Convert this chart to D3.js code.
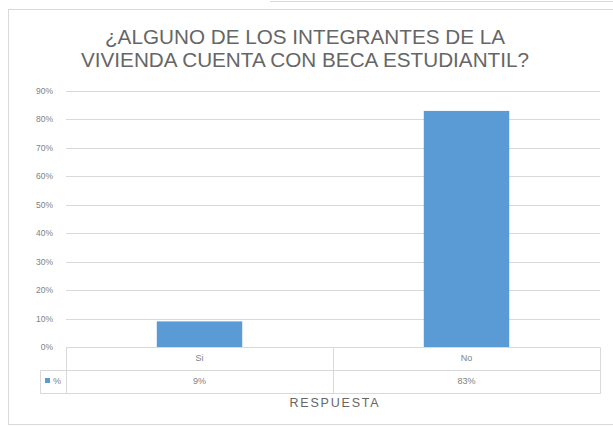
<!DOCTYPE html>
<html><head><meta charset="utf-8">
<script src="https://cdn.jsdelivr.net/npm/d3@7"></script>
<style>body{margin:0;background:#fff;}svg{display:block;font-family:"Liberation Sans",Arial,sans-serif;}</style>
</head><body><svg id="c" width="613" height="427"></svg>
<script>
const categories = ["Si", "No"];
const values = [0.09, 0.83];
const valueLabels = ["9%", "83%"];
const yTicks = [0,0.1,0.2,0.3,0.4,0.5,0.6,0.7,0.8,0.9];
const titleLines = ["¿ALGUNO DE LOS INTEGRANTES DE LA", "VIVIENDA CUENTA CON BECA ESTUDIANTIL?"];
const seriesName = "%";
const axisTitle = "RESPUESTA";

const svg = d3.select("#c");
const txt = "#666";
// outer frames
svg.append("line").attr("x1",270).attr("x2",613).attr("y1",1.5).attr("y2",1.5).attr("stroke","#d9d9d9");
svg.append("rect").attr("x",8.5).attr("y",9.5).attr("width",620).attr("height",415).attr("fill","none").attr("stroke","#d9d9d9");

svg.selectAll("text.title").data(titleLines).enter().append("text")
  .attr("x",305).attr("y",(d,i)=>44+i*23).attr("text-anchor","middle")
  .attr("font-size",20.7).attr("fill",txt).text(d=>d);

const x0=66, x1=600, yb=347;
const x = d3.scaleBand().domain(categories).range([x0,x1]).paddingInner(0).paddingOuter(0);
const y = d3.scaleLinear().domain([0,0.9]).range([yb,91]);

const g = svg.append("g");
g.selectAll("line.grid").data(yTicks).enter().append("line")
  .attr("x1",x0).attr("x2",x1).attr("y1",d=>Math.round(y(d))+0.5).attr("y2",d=>Math.round(y(d))+0.5)
  .attr("stroke","#d9d9d9");
g.selectAll("text.yt").data(yTicks).enter().append("text")
  .attr("x",53).attr("y",d=>y(d)+3).attr("text-anchor","end").attr("font-size",8.5).attr("fill","#7f7f7f")
  .text(d=>d3.format(".0%")(d));

const bw = x.bandwidth()*0.32;
g.selectAll("rect.bar").data(values).enter().append("rect")
  .attr("x",(d,i)=>x(categories[i])+x.bandwidth()/2-bw/2).attr("width",bw)
  .attr("y",d=>y(d)).attr("height",d=>yb-y(d)).attr("fill","#5b9bd5");

// data table
const r1=yb, r2=370, r3=393, lx=40;
const tl = "#d9d9d9";
[[x0,r1,x1,r1],[lx,r2,x1,r2],[lx,r3,x1,r3],[x0,r1,x0,r3],[lx,r2,lx,r3],[x1,r1,x1,r3]].forEach(a=>{
  g.append("line").attr("x1",a[0]+0.5).attr("y1",a[1]+0.5).attr("x2",a[2]+0.5).attr("y2",a[3]+0.5).attr("stroke",tl);
});
categories.forEach((c,i)=>{ if(i>0){ const xx=Math.round(x(c))+0.5; g.append("line").attr("x1",xx).attr("x2",xx).attr("y1",r1).attr("y2",r3).attr("stroke",tl);} });
g.selectAll("text.cat").data(categories).enter().append("text")
  .attr("x",d=>x(d)+x.bandwidth()/2).attr("y",361).attr("text-anchor","middle").attr("font-size",9).attr("fill","#7f7f7f").text(d=>d);
g.selectAll("text.val").data(valueLabels).enter().append("text")
  .attr("x",(d,i)=>x(categories[i])+x.bandwidth()/2).attr("y",384).attr("text-anchor","middle").attr("font-size",9).attr("fill","#7f7f7f").text(d=>d);
g.append("rect").attr("x",45).attr("y",378).attr("width",5).attr("height",5).attr("fill","#5b9bd5");
g.append("text").attr("x",53).attr("y",384).attr("font-size",9).attr("fill","#7f7f7f").text(seriesName);
svg.append("text").attr("x",335).attr("y",407).attr("text-anchor","middle").attr("font-size",12.5).attr("letter-spacing",1.8).attr("fill",txt).text(axisTitle);
</script></body></html>
